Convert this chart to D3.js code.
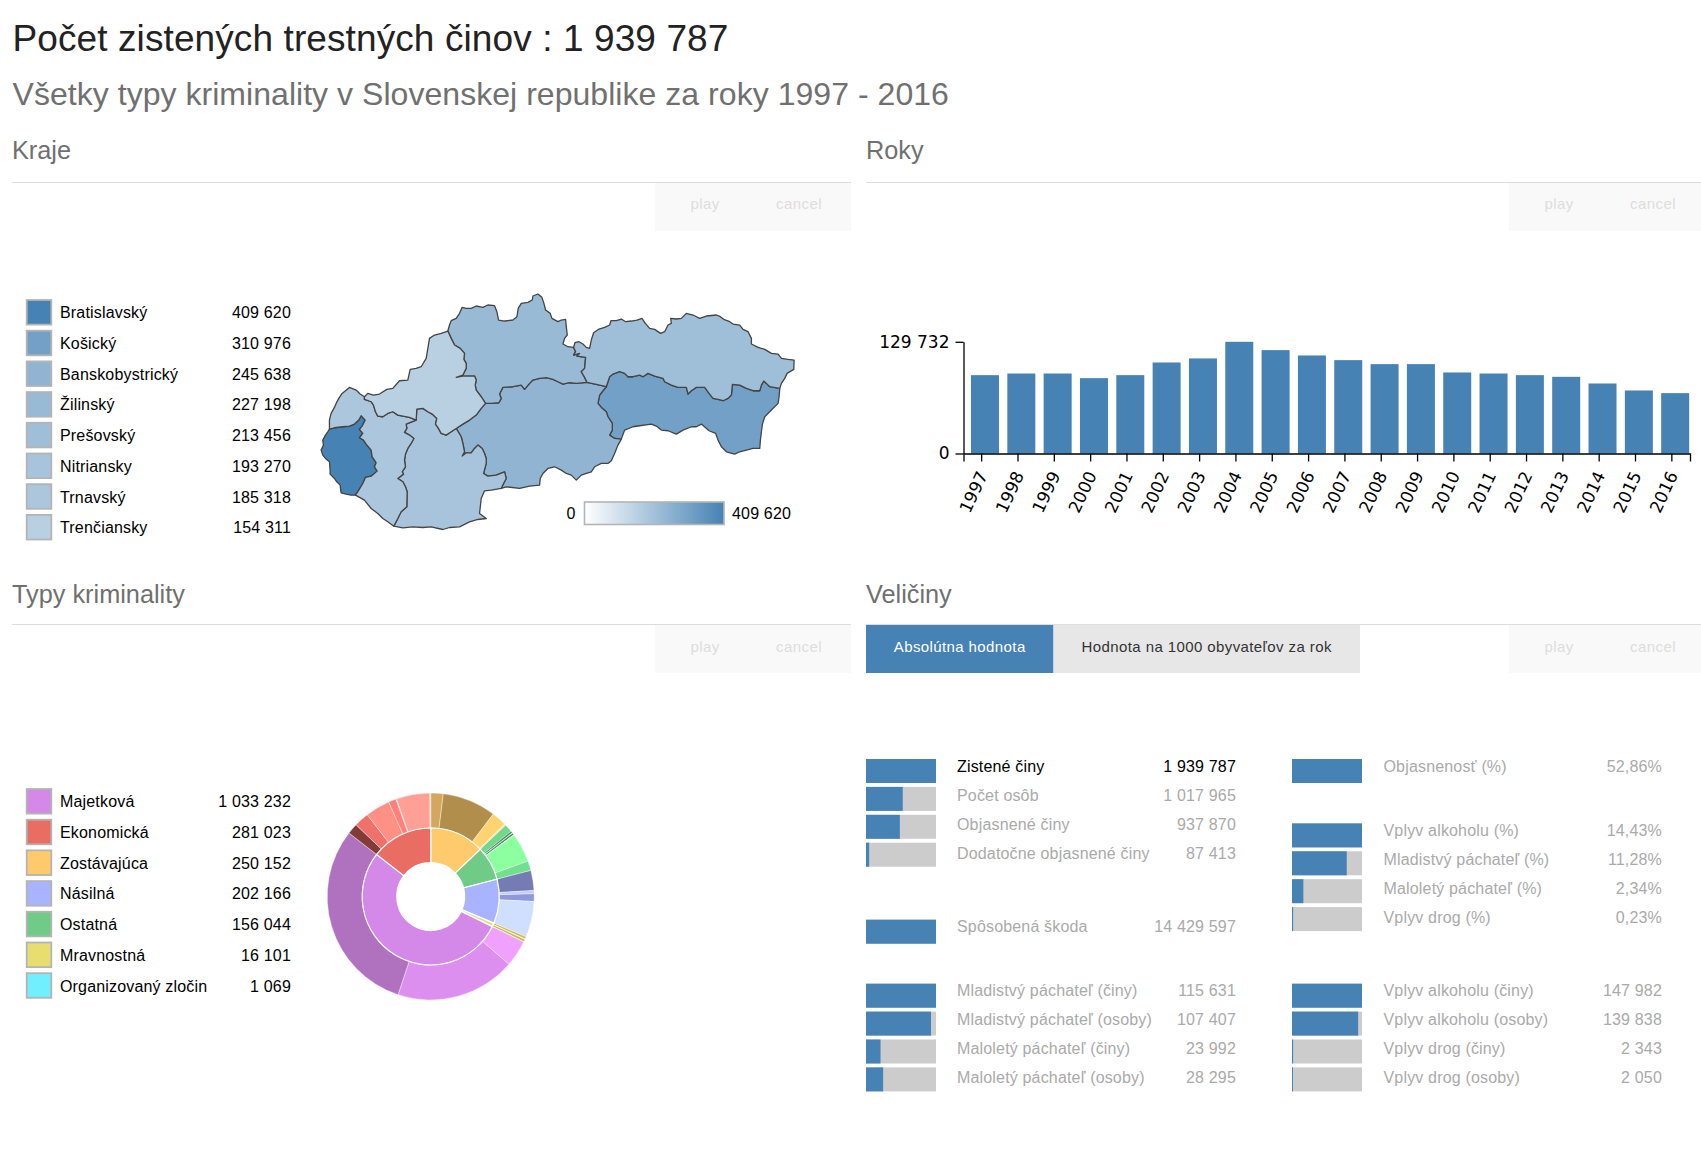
<!DOCTYPE html>
<html>
<head>
<meta charset="utf-8">
<script src="https://cdn.jsdelivr.net/npm/d3@7"></script>
<style>
  body { margin: 0; background: #fff; }
  svg text { font-family: "Liberation Sans", Arial, sans-serif; letter-spacing: 0.17px; }
  .axis text { font-family: "DejaVu Sans", sans-serif; font-size: 17px; fill: #000; letter-spacing: 0; }
  .axis path, .axis line { stroke: #000; stroke-width: 1.3; }
</style>
</head>
<body>
<div id="vis"></div>
<script>
// ---- data ----
const totalCrimes = "1 939 787";
const regionNames = ["Bratislavský", "Košický", "Banskobystrický", "Žilinský", "Prešovský", "Nitriansky", "Trnavský", "Trenčiansky"];
const regionValues = [409620, 310976, 245638, 227198, 213456, 193270, 185318, 154311];

const years = [1997, 1998, 1999, 2000, 2001, 2002, 2003, 2004, 2005, 2006, 2007, 2008, 2009, 2010, 2011, 2012, 2013, 2014, 2015, 2016];
const yearValues = [91000, 92900, 92900, 87500, 91000, 105700, 110400, 129732, 120050, 113850, 108440, 103800, 103800, 94100, 92900, 91000, 89070, 81300, 73200, 70100];

const crimeTypes = ["Majetková", "Ekonomická", "Zostávajúca", "Násilná", "Ostatná", "Mravnostná", "Organizovaný zločin"];
const crimeValues = [1033232, 281023, 250152, 202166, 156044, 16101, 1069];
const crimeColors = ["#d488e8", "#e96d62", "#ffca6b", "#a8b4ff", "#6fcb85", "#e8de70", "#70f0ff"];

// clockwise from the top, sub-types of each type
const ringOrder = ["Zostávajúca", "Ostatná", "Násilná", "Mravnostná", "Organizovaný zločin", "Majetková", "Ekonomická"];
const subValues = {
  "Zostávajúca": [37700, 162700, 45300, 4452],
  "Ostatná": [24250, 6000, 1200, 6000, 1200, 88370, 29024],
  "Násilná": [60890, 9700, 23170, 108406],
  "Mravnostná": [7000, 1500, 7601],
  "Organizovaný zločin": [1069],
  "Majetková": [79750, 363710, 589772],
  "Ekonomická": [32330, 44720, 74900, 23170, 2155, 101300, 2448]
};
const subColors = {
  "Zostávajúca": ["#d4a85c", "#b28e4c", "#ffd470", "#ffe09a"],
  "Ostatná": ["#70d98a", "#3f8a5c", "#a8e8b8", "#3f8a5c", "#a8e8b8", "#8cff9f", "#70df8f"],
  "Násilná": ["#757cb3", "#c4ccff", "#8f98dc", "#d0dfff"],
  "Mravnostná": ["#c9b84e", "#efe680", "#c9b84e"],
  "Organizovaný zločin": ["#70f0ff"],
  "Majetková": ["#f0a0ff", "#dd8ff0", "#b071be"],
  "Ekonomická": ["#843b37", "#f0706a", "#ff9085", "#ff8078", "#c8a09c", "#ff9f96", "#ffd0cc"]
};

// region borders (map units)
const borderBaTt = [[90,477],[105,473],[130,470],[150,468],[165,462],[178,450],[185,437],[197,450],[188,468],[180,478],[190,490],[180,503],[192,510],[200,522],[215,540],[218,560],[225,570],[230,578],[225,590],[233,603],[215,618],[198,622],[190,640],[178,660],[168,675]];
const outerBa = [[168,675],[155,675],[140,672],[125,668],[122,645],[112,635],[105,625],[92,612],[92,600],[90,575],[78,565],[70,555],[65,540],[72,525],[70,510],[78,495],[85,485],[90,477]];
const outerTtNorth = [[90,477],[90,450],[95,430],[105,412],[110,400],[118,385],[128,370],[150,352],[170,360],[182,372],[195,380]];
const borderTtTn = [[195,380],[195,388],[215,395],[222,405],[228,425],[235,438],[250,440],[265,430],[280,425],[295,435],[310,438],[330,442],[350,450]];
const borderTtNr = [[350,450],[320,462],[322,475],[315,487],[330,495],[343,505],[335,520],[325,535],[318,552],[315,570],[318,590],[308,605],[312,612],[295,625],[310,635],[318,650],[323,665],[322,710],[305,725],[295,745],[283,768]];
const outerTtSouth = [[283,768],[265,755],[250,745],[235,730],[215,715],[195,690],[168,675]];
const outerTn = [[195,380],[205,370],[222,375],[240,372],[262,358],[280,355],[300,332],[325,330],[332,298],[350,295],[365,290],[380,265],[385,235],[390,205],[405,195],[425,190],[445,183]];
const borderTnZa = [[445,183],[455,205],[465,225],[482,235],[495,250],[493,268],[500,280],[500,295],[490,315],[470,322],[490,318],[525,318],[530,330],[527,345],[530,360],[545,380],[558,400]];
const borderTnBb = [[558,400],[545,415],[530,435],[510,450],[490,462],[470,475]];
const borderTnNr = [[470,475],[455,485],[440,495],[425,490],[415,472],[408,462],[412,445],[398,432],[385,425],[370,415],[352,417],[350,450]];
const borderNrBb = [[470,475],[485,500],[490,520],[495,545],[488,558],[500,548],[515,548],[525,535],[535,525],[548,535],[555,550],[560,565],[560,580],[552,610],[565,618],[590,615],[615,605],[620,625],[612,640],[605,655]];
const outerNr = [[605,655],[575,660],[555,662],[545,685],[540,730],[560,745],[535,748],[510,755],[480,770],[450,772],[430,778],[395,770],[370,772],[340,770],[310,773],[283,768]];
const outerZa = [[445,183],[450,165],[455,152],[470,145],[480,130],[488,112],[500,115],[515,115],[530,108],[550,112],[565,105],[585,107],[592,125],[597,150],[615,153],[640,150],[652,140],[656,115],[665,100],[685,97],[698,90],[700,78],[715,72],[727,82],[733,100],[738,120],[752,130],[757,145],[775,155],[785,150],[798,148],[800,170],[803,195],[795,205],[790,222],[805,230],[822,232]];
const borderZaPo = [[822,232],[828,245],[822,255],[840,250],[832,258],[858,262],[855,295],[845,305],[855,322],[862,337]];
const borderZaBb = [[862,337],[830,340],[810,338],[790,342],[775,335],[760,328],[740,323],[720,325],[700,330],[690,340],[675,358],[665,345],[640,350],[610,352],[600,372],[605,385],[598,398],[575,400],[558,400]];
const outerPo = [[822,232],[826,218],[838,215],[850,222],[860,232],[870,235],[875,210],[882,188],[898,177],[915,172],[930,165],[934,152],[950,152],[965,147],[978,155],[995,153],[1012,150],[1027,145],[1037,160],[1050,175],[1065,178],[1083,190],[1095,185],[1105,165],[1115,160],[1113,145],[1130,147],[1145,145],[1160,130],[1180,135],[1200,145],[1220,138],[1250,135],[1262,140],[1272,148],[1290,155],[1300,162],[1320,165],[1330,178],[1345,185],[1355,205],[1355,222],[1375,232],[1395,238],[1415,250],[1435,252],[1445,265],[1465,268],[1483,270],[1482,298],[1462,310],[1455,325],[1445,340],[1440,355]];
const borderPoKe = [[1440,355],[1410,350],[1400,340],[1392,333],[1385,345],[1380,362],[1360,362],[1340,355],[1320,345],[1298,343],[1295,375],[1285,385],[1270,392],[1255,388],[1240,385],[1228,370],[1215,352],[1190,352],[1175,362],[1165,372],[1160,352],[1135,352],[1115,345],[1095,335],[1090,325],[1065,318],[1045,310],[1030,320],[1020,315],[1000,320],[985,320],[975,310],[960,305],[940,312],[930,320],[925,335],[920,350]];
const borderPoBb = [[920,350],[890,343],[862,337]];
const outerKe = [[1440,355],[1438,380],[1435,400],[1415,420],[1395,440],[1388,462],[1385,485],[1382,510],[1380,535],[1360,535],[1340,540],[1320,545],[1305,552],[1280,545],[1265,530],[1255,510],[1248,490],[1228,482],[1205,462],[1190,470],[1175,470],[1150,480],[1130,492],[1105,482],[1085,480],[1070,468],[1055,462],[1020,467],[1000,470],[975,480],[965,507]];
const borderKeBb = [[965,507],[945,505],[930,495],[938,480],[938,460],[925,440],[920,425],[905,412],[895,400],[900,375],[910,362],[920,350]];
const outerBb = [[965,507],[955,525],[945,550],[935,572],[925,580],[905,580],[885,590],[875,605],[860,610],[845,615],[830,630],[815,615],[800,610],[785,600],[765,590],[745,595],[730,610],[722,625],[720,645],[690,648],[660,655],[620,650],[605,655]];

const measureLabels = [
  ["Zistené činy", "Počet osôb", "Objasnené činy", "Dodatočne objasnené činy"],
  ["Spôsobená škoda"],
  ["Mladistvý páchateľ (činy)", "Mladistvý páchateľ (osoby)", "Maloletý páchateľ (činy)", "Maloletý páchateľ (osoby)"],
  ["Objasnenosť (%)"],
  ["Vplyv alkoholu (%)", "Mladistvý páchateľ (%)", "Maloletý páchateľ (%)", "Vplyv drog (%)"],
  ["Vplyv alkoholu (činy)", "Vplyv alkoholu (osoby)", "Vplyv drog (činy)", "Vplyv drog (osoby)"]
];
const measureValues = [
  [1939787, 1017965, 937870, 87413],
  [14429597],
  [115631, 107407, 23992, 28295],
  [52.86],
  [14.43, 11.28, 2.34, 0.23],
  [147982, 139838, 2343, 2050]
];

// ---- page ----
const width = 1701, height = 1155;
const svg = d3.select("#vis").append("svg").attr("width", width).attr("height", height);
const blue = "steelblue";
const skLocale = d3.formatLocale({ decimal: ",", thousands: " ", grouping: [3], currency: ["", ""] });
const spaced = skLocale.format(",d");
const pct = skLocale.format(".2f");

function label(x, y, txt, size, color, anchor, spacing) {
  const t = svg.append("text").attr("x", x).attr("y", y).attr("font-size", size)
    .attr("fill", color || "#000").attr("text-anchor", anchor || "start").text(txt);
  if (spacing !== undefined) t.style("letter-spacing", spacing + "px");
  return t;
}

label(12.5, 50.5, "Počet zistených trestných činov : " + totalCrimes, 37, "#222", "start", 0.1);
label(12.5, 104.5, "Všetky typy kriminality v Slovenskej republike za roky 1997 - 2016", 32, "#707070", "start", 0.04);

// section headers + play/cancel boxes
function section(x, titleY, ruleY, btnY, title, x2, boxX) {
  label(x, titleY, title, 25.3, "#707070", "start", 0);
  svg.append("line").attr("x1", x).attr("x2", x2).attr("y1", ruleY).attr("y2", ruleY)
    .attr("stroke", "#ddd").attr("stroke-width", 1);
  svg.append("rect").attr("x", boxX).attr("y", ruleY + 0.5).attr("width", x2 - boxX).attr("height", 48).attr("fill", "#f9f9f9");
  label(boxX + 50, btnY, "play", 15, "#ddd", "middle", 0.4);
  label(boxX + 144, btnY, "cancel", 15, "#ddd", "middle", 0.4);
}
section(12, 159, 182.5, 208.5, "Kraje", 851, 655);
section(866, 159, 182.5, 208.5, "Roky", 1701, 1509);
section(12, 603, 624.5, 651.5, "Typy kriminality", 851, 655);
section(866, 603, 624.5, 651.5, "Veličiny", 1701, 1509);

// ---- legends ----
function legendRows(names, values, colors, y0, step) {
  const g = svg.append("g");
  names.forEach((n, i) => {
    const y = y0 + i * step;
    g.append("rect").attr("x", 26.7).attr("y", y - 12.3).attr("width", 24.6).attr("height", 24.6)
      .attr("fill", colors[i]).attr("stroke", "#b4b4b4").attr("stroke-width", 1.8);
    g.append("text").attr("x", 60).attr("y", y + 6).attr("font-size", 16).text(n);
    g.append("text").attr("x", 291).attr("y", y + 6).attr("font-size", 16).attr("text-anchor", "end").text(spaced(values[i]));
  });
}

// ---- map ----
const mapColor = d3.scaleLinear().domain([0, d3.max(regionValues)]).range(["white", blue]);
legendRows(regionNames, regionValues, regionValues.map(mapColor), 312.3, 30.7);

const rev = a => a.slice().reverse();
const ring = (...parts) => d3.merge(parts);
const regionRings = {
  "Bratislavský": ring(borderBaTt, outerBa),
  "Trnavský": ring(outerTtNorth, borderTtTn, borderTtNr, outerTtSouth, rev(borderBaTt)),
  "Trenčiansky": ring(outerTn, borderTnZa, borderTnBb, borderTnNr, rev(borderTtTn)),
  "Nitriansky": ring(rev(borderTnNr), borderNrBb, outerNr, rev(borderTtNr)),
  "Žilinský": ring(outerZa, borderZaPo, borderZaBb, rev(borderTnZa)),
  "Prešovský": ring(outerPo, borderPoKe, borderPoBb, rev(borderZaPo)),
  "Košický": ring(rev(borderPoKe), outerKe, borderKeBb),
  "Banskobystrický": ring(rev(borderZaBb), rev(borderPoBb), rev(borderKeBb), outerBb, rev(borderNrBb), rev(borderTnBb))
};
const regionsGeo = {
  type: "FeatureCollection",
  features: regionNames.map((n, i) => ({
    type: "Feature",
    properties: { name: n, value: regionValues[i] },
    geometry: { type: "Polygon", coordinates: [regionRings[n]] }
  }))
};
const projection = d3.geoIdentity().fitExtent([[320.7, 294], [794.5, 529.5]], regionsGeo);
const path = d3.geoPath().projection(projection);
svg.append("g").selectAll("path").data(regionsGeo.features).join("path")
  .attr("d", path)
  .attr("fill", d => mapColor(d.properties.value))
  .attr("stroke", "#444")
  .attr("stroke-width", 1.3)
  .attr("stroke-linejoin", "round");

// map colour key
const defs = svg.append("defs");
const gradient = defs.append("linearGradient").attr("id", "key-gradient");
gradient.append("stop").attr("offset", "0%").attr("stop-color", "white");
gradient.append("stop").attr("offset", "100%").attr("stop-color", blue);
svg.append("rect").attr("x", 584.5).attr("y", 502).attr("width", 139.5).attr("height", 22.5)
  .attr("fill", "url(#key-gradient)").attr("stroke", "#b4b4b4").attr("stroke-width", 1.6);
label(575.5, 518.5, "0", 16, "#000", "end");
label(732, 518.5, spaced(d3.max(regionValues)), 16);

// ---- years ----
const x = d3.scaleBand().domain(years).range([963.5, 1690]);
const y = d3.scaleLinear().domain([0, d3.max(yearValues)]).range([453.5, 341.8]);
svg.append("g").selectAll("rect").data(years).join("rect")
  .attr("x", d => x(d) + 7.5)
  .attr("width", 28)
  .attr("y", (d, i) => y(yearValues[i]))
  .attr("height", (d, i) => y(0) - y(yearValues[i]))
  .attr("fill", blue);
svg.append("g").attr("class", "axis").attr("transform", "translate(963.5,0)")
  .call(d3.axisLeft(y).tickValues([0, d3.max(yearValues)]).tickFormat(spaced).tickSize(8).tickPadding(6).tickSizeOuter(0));
svg.append("g").attr("class", "axis").attr("transform", "translate(0,453.5)")
  .call(d3.axisBottom(x).tickSize(8))
  .selectAll("text")
  .attr("x", 0)
  .attr("y", 0)
  .attr("dy", "0.35em")
  .attr("text-anchor", "end")
  .attr("transform", "translate(1,19) rotate(-65)");

// ---- crime types ----
const crimeColor = d3.scaleOrdinal().domain(crimeTypes).range(crimeColors);
legendRows(crimeTypes, crimeValues, crimeColors, 801.3, 30.7);

const tree = {
  name: "all",
  children: ringOrder.map(t => ({
    name: t,
    children: subValues[t].map((v, i) => ({ name: t + i, type: t, index: i, value: v }))
  }))
};
const root = d3.partition().size([2 * Math.PI, 1])(d3.hierarchy(tree).sum(d => d.value));
const radii = [0, 34, 68.5, 103.5];
const arc = d3.arc()
  .startAngle(d => d.x0).endAngle(d => d.x1)
  .innerRadius(d => radii[d.depth]).outerRadius(d => radii[d.depth + 1]);
const sun = svg.append("g").attr("transform", "translate(430.7,896.5)");
sun.selectAll("path.outer").data(root.descendants().filter(d => d.depth === 2)).join("path")
  .attr("class", "outer")
  .attr("d", arc)
  .attr("fill", d => subColors[d.data.type][d.data.index])
  .attr("stroke", "#fff").attr("stroke-width", 0.4);
sun.selectAll("path.inner").data(root.descendants().filter(d => d.depth === 1)).join("path")
  .attr("class", "inner")
  .attr("d", arc)
  .attr("fill", d => crimeColor(d.data.name))
  .attr("stroke", "#fff").attr("stroke-width", 1.2);

// ---- measures ----
svg.append("rect").attr("x", 866).attr("y", 625).attr("width", 187.5).attr("height", 48).attr("fill", blue);
svg.append("rect").attr("x", 1053.5).attr("y", 625).attr("width", 306.5).attr("height", 48).attr("fill", "#e7e7e7");
label(959.7, 652, "Absolútna hodnota", 15, "#fff", "middle", 0.4);
label(1206.7, 652, "Hodnota na 1000 obyvateľov za rok", 15, "#333", "middle", 0.4);

// group placement: bar left, label left, value right, bar top, text baseline
const groupPos = [
  [866, 957, 1236, 759, 771.5],
  [866, 957, 1236, 919.7, 932],
  [866, 957, 1236, 983.7, 996],
  [1292, 1383.5, 1662, 759, 771.5],
  [1292, 1383.5, 1662, 823.4, 835.5],
  [1292, 1383.5, 1662, 983.7, 996]
];
const barWidth = 70, barHeight = 24, barStep = 27.9, textStep = 29;
measureLabels.forEach((names, g) => {
  const [bx, lx, vx, by, ty] = groupPos[g];
  const values = measureValues[g];
  const isPct = g === 3 || g === 4;
  const w = d3.scaleLinear().domain([0, d3.max(values)]).range([0, barWidth]);
  names.forEach((n, i) => {
    svg.append("rect").attr("x", bx).attr("y", by + i * barStep).attr("width", barWidth).attr("height", barHeight).attr("fill", "#ccc");
    svg.append("rect").attr("x", bx).attr("y", by + i * barStep).attr("width", w(values[i])).attr("height", barHeight).attr("fill", blue);
    const col = (g === 0 && i === 0) ? "#000" : "#aaa";
    label(lx, ty + i * textStep, n, 16, col);
    label(vx, ty + i * textStep, isPct ? pct(values[i]) + "%" : spaced(values[i]), 16, col, "end");
  });
});
</script>
</body>
</html>
